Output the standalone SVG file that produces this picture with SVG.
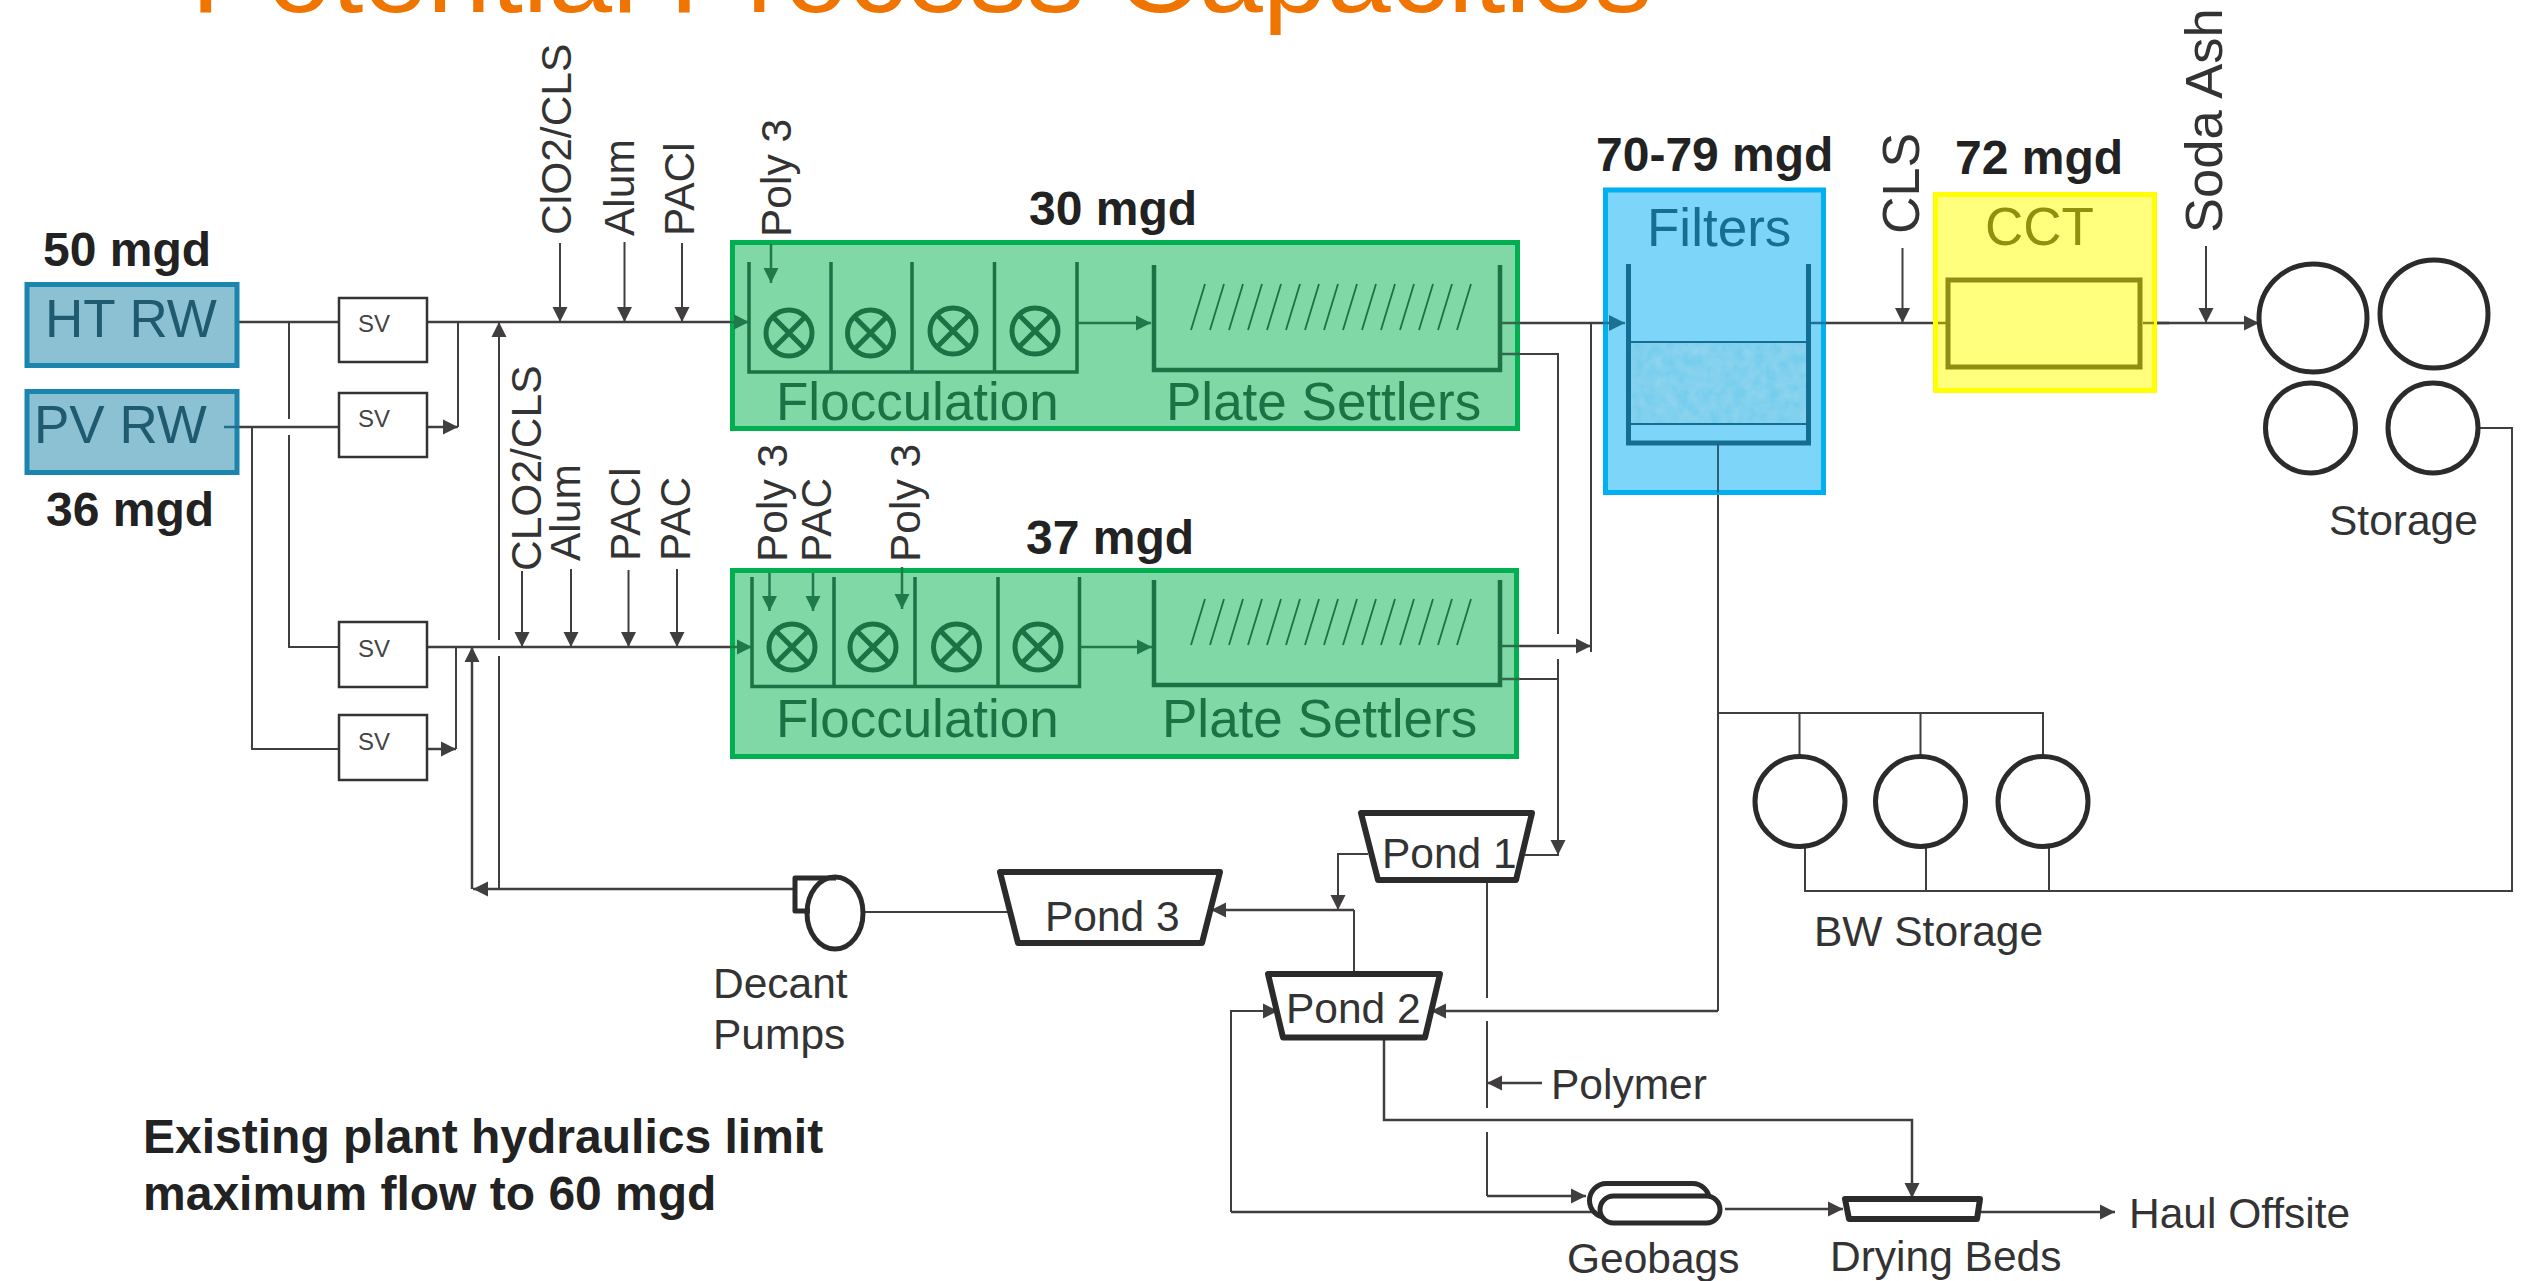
<svg xmlns="http://www.w3.org/2000/svg" width="2526" height="1281" viewBox="0 0 2526 1281">
<style>
text{font-family:"Liberation Sans",Arial,sans-serif;fill:#333}
.b{font-weight:700;font-size:48px;fill:#222}
.c{font-size:42.5px}
.sv{font-size:24px;fill:#444}
.ln{fill:none;stroke:#403e3e;stroke-width:2.5}
.th{stroke-width:2}
.a{marker-end:url(#ag)}
.g{fill:none;stroke:#1a7245;stroke-width:3.5}
.ga{fill:none;stroke:#1f7a4b;stroke-width:2.5;marker-end:url(#agr)}
.gt{fill:#1a7245;font-size:53px}
.tk{fill:none;stroke:#2b2b2b;stroke-width:5;stroke-linejoin:round}
.pd{stroke-width:6}
.rw{fill:#8cc0d3;stroke:#1a86ad;stroke-width:5}
.gb{fill:#80d8a6;stroke:#00b050;stroke-width:5}
.svb{fill:#fff;stroke:#333;stroke-width:2.5}
</style>
<defs>
<marker id="ag" markerUnits="userSpaceOnUse" markerWidth="16" markerHeight="16" refX="15" refY="8" orient="auto"><path d="M0,0.5L15,8L0,15.5z" fill="#403e3e"/></marker>
<marker id="agr" markerUnits="userSpaceOnUse" markerWidth="16" markerHeight="16" refX="15" refY="8" orient="auto"><path d="M0,0.5L15,8L0,15.5z" fill="#1f7a4b"/></marker>
<g id="mix"><circle r="23" fill="none" stroke="#1a7245" stroke-width="5"/><path d="M-16,-16L16,16M16,-16L-16,16" stroke="#1a7245" stroke-width="5"/></g>
<path id="sl" d="M0,0L14,-46" stroke="#1a7245" stroke-width="1.8"/>
<filter id="water" x="0" y="0" width="1" height="1"><feTurbulence type="fractalNoise" baseFrequency="0.09" numOctaves="3" seed="4"/><feColorMatrix values="0 0 0 0 0.36  0 0 0 0 0.70  0 0 0 0 0.85  0.9 0 0 0 -0.2"/><feComposite in2="SourceGraphic" operator="in"/><feMerge><feMergeNode in="SourceGraphic"/><feMergeNode/></feMerge></filter>
</defs>
<rect width="2526" height="1281" fill="#fff"/>
<text id="title" x="191" y="12" font-size="110" textLength="1461" lengthAdjust="spacingAndGlyphs" style="fill:#f07400">Potential Process Capacities</text>

<g id="connectors">
<path class="ln" d="M239,322H338M427,322H730"/>
<path class="ln" d="M239,427H338"/>
<path class="ln th" d="M289,322V419M289,435V647H338M252,427V749H338"/>
<path class="ln a" d="M427,427H458"/><path class="ln th" d="M458,322V427"/>
<path class="ln" d="M427,647H730"/><path class="ln a" d="M427,749H456"/><path class="ln th" d="M456,647V749"/>
<path class="ln th a" d="M499,640V322"/><path class="ln th" d="M499,656V889"/>
<path class="ln a" d="M793,889H473"/><path class="ln a" d="M472,889V647"/>
<path class="ln th a" d="M560,243V322"/><path class="ln th a" d="M624.5,242V322"/><path class="ln th a" d="M682,243V322"/>
<path class="ln th a" d="M522,571V647"/><path class="ln th a" d="M571,569V647"/><path class="ln th a" d="M628.5,570V647"/><path class="ln th a" d="M677,569V647"/>
<path class="ln" d="M1520,323H1603"/>
<path class="ln th" d="M1591,323V652"/>
<path class="ln a" d="M1520,646H1591"/>
<path class="ln th" d="M1500,354H1558V634M1558,659V855H1525M1500,679H1558"/>
<path class="ln th a" d="M1558,800V855"/>
<path class="ln" d="M1826,323H1933M2157,323H2169"/>
<path class="ln a" d="M2157,323H2259"/>
<path class="ln th a" d="M1902.5,248V323"/><path class="ln th a" d="M2206,246V323"/>
<path class="ln th" d="M1718,444V1011"/><path class="ln a" d="M1718,1011H1431"/>
<path class="ln th" d="M2478,428H2512V891H1805V848M1926,848V891M2049,848V891"/>
<path class="ln th" d="M1718,713H2043V755M1799.5,713V755M1920.5,713V755"/>
<path class="ln th a" d="M1368,854H1338V910"/>
<path class="ln a" d="M1354,910H1211"/><path class="ln th" d="M1354,910V973"/>
<path class="ln th" d="M863,912H1009"/>
<path class="ln th" d="M1487,880V998M1487,1021V1108M1487,1132V1196"/>
<path class="ln a" d="M1487,1196H1586"/>
<path class="ln a" d="M1542,1083H1487"/>
<path class="ln a" d="M1384,1040V1120H1912V1198"/>
<path class="ln" d="M1597,1212H1231"/><path class="ln th a" d="M1231,1212V1011H1278"/>
<path class="ln a" d="M1725,1209H1843"/>
<path class="ln a" d="M1980,1212H2115"/>
</g>

<g id="ht-rw"><rect class="rw" x="27" y="284.5" width="210" height="81"/><text x="45" y="337" font-size="53" style="fill:#1f5a70">HT RW</text><text class="b" x="43" y="266">50 mgd</text></g>
<g id="pv-rw"><rect class="rw" x="27" y="391.5" width="210" height="81"/><text x="34" y="443" font-size="53" style="fill:#1f5a70">PV RW</text><path d="M224,427H239" stroke="#1f6f8b" stroke-width="2.5"/><text class="b" x="46" y="526">36 mgd</text></g>
<g id="sv1"><rect class="svb" x="339" y="298" width="88" height="64"/><text class="sv" x="358" y="332">SV</text></g>
<g id="sv2"><rect class="svb" x="339" y="393" width="88" height="64"/><text class="sv" x="358" y="427">SV</text></g>
<g id="sv3"><rect class="svb" x="339" y="622" width="88" height="65"/><text class="sv" x="358" y="657">SV</text></g>
<g id="sv4"><rect class="svb" x="339" y="715" width="88" height="65"/><text class="sv" x="358" y="750">SV</text></g>

<g id="chem-upper">
<text class="c" transform="translate(571,235) rotate(-90)">ClO2/CLS</text>
<text class="c" transform="translate(634,236) rotate(-90)">Alum</text>
<text class="c" transform="translate(694,236) rotate(-90)">PACl</text>
<text class="c" transform="translate(791,237) rotate(-90)">Poly 3</text>
</g>
<g id="chem-lower">
<text class="c" transform="translate(541,571) rotate(-90)">CLO2/CLS</text>
<text class="c" transform="translate(580,561) rotate(-90)">Alum</text>
<text class="c" transform="translate(640,561) rotate(-90)">PACl</text>
<text class="c" transform="translate(690,561) rotate(-90)">PAC</text>
<text class="c" transform="translate(787,562) rotate(-90)">Poly 3</text>
<text class="c" transform="translate(831,562) rotate(-90)">PAC</text>
<text class="c" transform="translate(920,562) rotate(-90)">Poly 3</text>
</g>

<g id="train1">
<rect class="gb" x="732.5" y="242.5" width="785" height="186"/>
<path d="M730,322H749" stroke="#1f7a4b" stroke-width="2.5" marker-end="url(#agr)"/>
<path class="g" d="M749,262V372H1077V262M831,262V372M912,262V372M994.5,262V372"/>
<path class="ga" d="M771,244V283"/>
<use href="#mix" x="789" y="333"/><use href="#mix" x="870.5" y="333"/><use href="#mix" x="953" y="331"/><use href="#mix" x="1035" y="331"/>
<path class="ga" d="M1077,323H1151"/>
<path class="g" style="stroke-width:4.5" d="M1154,265V370H1500V265"/>
<g id="s1"><use href="#sl" x="1191" y="330"/><use href="#sl" x="1210" y="330"/><use href="#sl" x="1229" y="330"/><use href="#sl" x="1248" y="330"/><use href="#sl" x="1267" y="330"/><use href="#sl" x="1286" y="330"/><use href="#sl" x="1305" y="330"/><use href="#sl" x="1324" y="330"/><use href="#sl" x="1343" y="330"/><use href="#sl" x="1362" y="330"/><use href="#sl" x="1381" y="330"/><use href="#sl" x="1400" y="330"/><use href="#sl" x="1419" y="330"/><use href="#sl" x="1438" y="330"/><use href="#sl" x="1457" y="330"/></g>
<path d="M1500,323H1520M1500,354H1520" stroke="#2f6b4a" stroke-width="2.5"/>
<text class="gt" x="776" y="420">Flocculation</text><text class="gt" x="1166" y="420">Plate Settlers</text>
<text class="b" x="1029" y="225">30 mgd</text>
</g>
<g id="train2">
<rect class="gb" x="732.5" y="570.5" width="784" height="186"/>
<path d="M730,647H752" stroke="#1f7a4b" stroke-width="2.5" marker-end="url(#agr)"/>
<path class="g" d="M752,577V686.5H1079.5V577M834,577V686.5M915,577V686.5M998,577V686.5"/>
<path class="ga" d="M769.5,573V611"/><path class="ga" d="M813,573V611"/><path class="ga" d="M902,567V609"/>
<use href="#mix" x="792" y="647"/><use href="#mix" x="873" y="647"/><use href="#mix" x="956.5" y="647"/><use href="#mix" x="1038" y="647"/>
<path class="ga" d="M1079.5,647H1152"/>
<path class="g" style="stroke-width:4.5" d="M1154,580V685H1500V580"/>
<g id="s2"><use href="#sl" x="1191" y="645"/><use href="#sl" x="1210" y="645"/><use href="#sl" x="1229" y="645"/><use href="#sl" x="1248" y="645"/><use href="#sl" x="1267" y="645"/><use href="#sl" x="1286" y="645"/><use href="#sl" x="1305" y="645"/><use href="#sl" x="1324" y="645"/><use href="#sl" x="1343" y="645"/><use href="#sl" x="1362" y="645"/><use href="#sl" x="1381" y="645"/><use href="#sl" x="1400" y="645"/><use href="#sl" x="1419" y="645"/><use href="#sl" x="1438" y="645"/><use href="#sl" x="1457" y="645"/></g>
<path d="M1500,646H1520M1500,679H1520" stroke="#2f6b4a" stroke-width="2.5"/>
<text class="gt" x="776" y="737">Flocculation</text><text class="gt" x="1162" y="737">Plate Settlers</text>
<text class="b" x="1026" y="554">37 mgd</text>
</g>

<g id="filters">
<rect x="1605.5" y="190" width="218" height="302.5" fill="#7dd6f9" stroke="#00b0f0" stroke-width="5"/>
<rect x="1631" y="342" width="175" height="82" fill="#74cdee" filter="url(#water)"/>
<path d="M1631,342H1806M1631,424H1806" stroke="#146e93" stroke-width="2"/>
<path d="M1628.5,264V443H1808.5V264" fill="none" stroke="#146e93" stroke-width="5"/>
<path d="M1603,323H1625" fill="none" stroke="#1c7090" stroke-width="2.5"/><path d="M1609,315L1625,323L1609,331z" fill="#1c7090"/>
<path d="M1811,323H1826" stroke="#1c7090" stroke-width="2.5"/>
<path d="M1718,444V492.5" stroke="#2f5f75" stroke-width="2"/>
<text x="1647" y="246" font-size="53" style="fill:#166e94">Filters</text>
<text class="b" x="1596" y="171">70-79 mgd</text>
</g>
<g id="cct">
<rect x="1935.5" y="194.5" width="219" height="196" fill="#ffff7d" stroke="#ff0" stroke-width="5"/>
<rect x="1948" y="280" width="192" height="87" fill="#ffff7d" stroke="#8e8e12" stroke-width="5"/>
<path d="M1938,323H1946M2143,323H2154" stroke="#8e8e12" stroke-width="2.5"/>
<text x="1985" y="245" font-size="53" style="fill:#8f8f10">CCT</text>
<text class="b" x="1955" y="174">72 mgd</text>
</g>
<text transform="translate(1919,234) rotate(-90)" font-size="52">CLS</text>
<text transform="translate(2222,233) rotate(-90)" font-size="52.5">Soda Ash</text>

<g id="storage">
<circle class="tk" cx="2313" cy="318" r="54"/><circle class="tk" cx="2434" cy="314" r="54"/><circle class="tk" cx="2310.5" cy="428" r="45"/><circle class="tk" cx="2433" cy="428" r="45"/>
<text class="c" x="2329" y="535">Storage</text>
</g>
<g id="bw-storage">
<circle class="tk" cx="1800" cy="801.5" r="45"/><circle class="tk" cx="1920.5" cy="801.5" r="45"/><circle class="tk" cx="2043" cy="801.5" r="45"/>
<text class="c" x="1814" y="946">BW Storage</text>
</g>
<g id="pond1"><path class="tk pd" d="M1361,813H1532L1516,880H1378z"/><text class="c" x="1382" y="868">Pond 1</text></g>
<g id="pond2"><path class="tk pd" d="M1268,974H1440L1425,1037.5H1283z"/><text class="c" x="1286" y="1023">Pond 2</text></g>
<g id="pond3"><path class="tk pd" d="M1000,872H1220L1202,943H1018z"/><text class="c" x="1045" y="931">Pond 3</text></g>
<g id="decant-pumps">
<path class="tk" d="M836,878H795V911H810"/>
<ellipse class="tk" cx="835" cy="913" rx="28" ry="36"/>
<text class="c" x="713" y="998">Decant</text><text class="c" x="713" y="1049">Pumps</text>
</g>
<g id="geobags">
<rect class="tk" x="1589.5" y="1183.5" width="120" height="34" rx="17"/>
<rect class="tk" x="1600" y="1196" width="120" height="27" rx="13.5" style="fill:#fff"/>
<text class="c" x="1567" y="1273">Geobags</text>
</g>
<g id="drying-beds"><path class="tk pd" d="M1845,1199H1980L1977,1219H1849z"/><text class="c" x="1830" y="1271">Drying Beds</text></g>
<text class="c" x="1551" y="1099">Polymer</text>
<text class="c" x="2129" y="1228">Haul Offsite</text>
<text class="b" x="143" y="1153">Existing plant hydraulics limit</text>
<text class="b" x="143" y="1210">maximum flow to 60 mgd</text>
</svg>
